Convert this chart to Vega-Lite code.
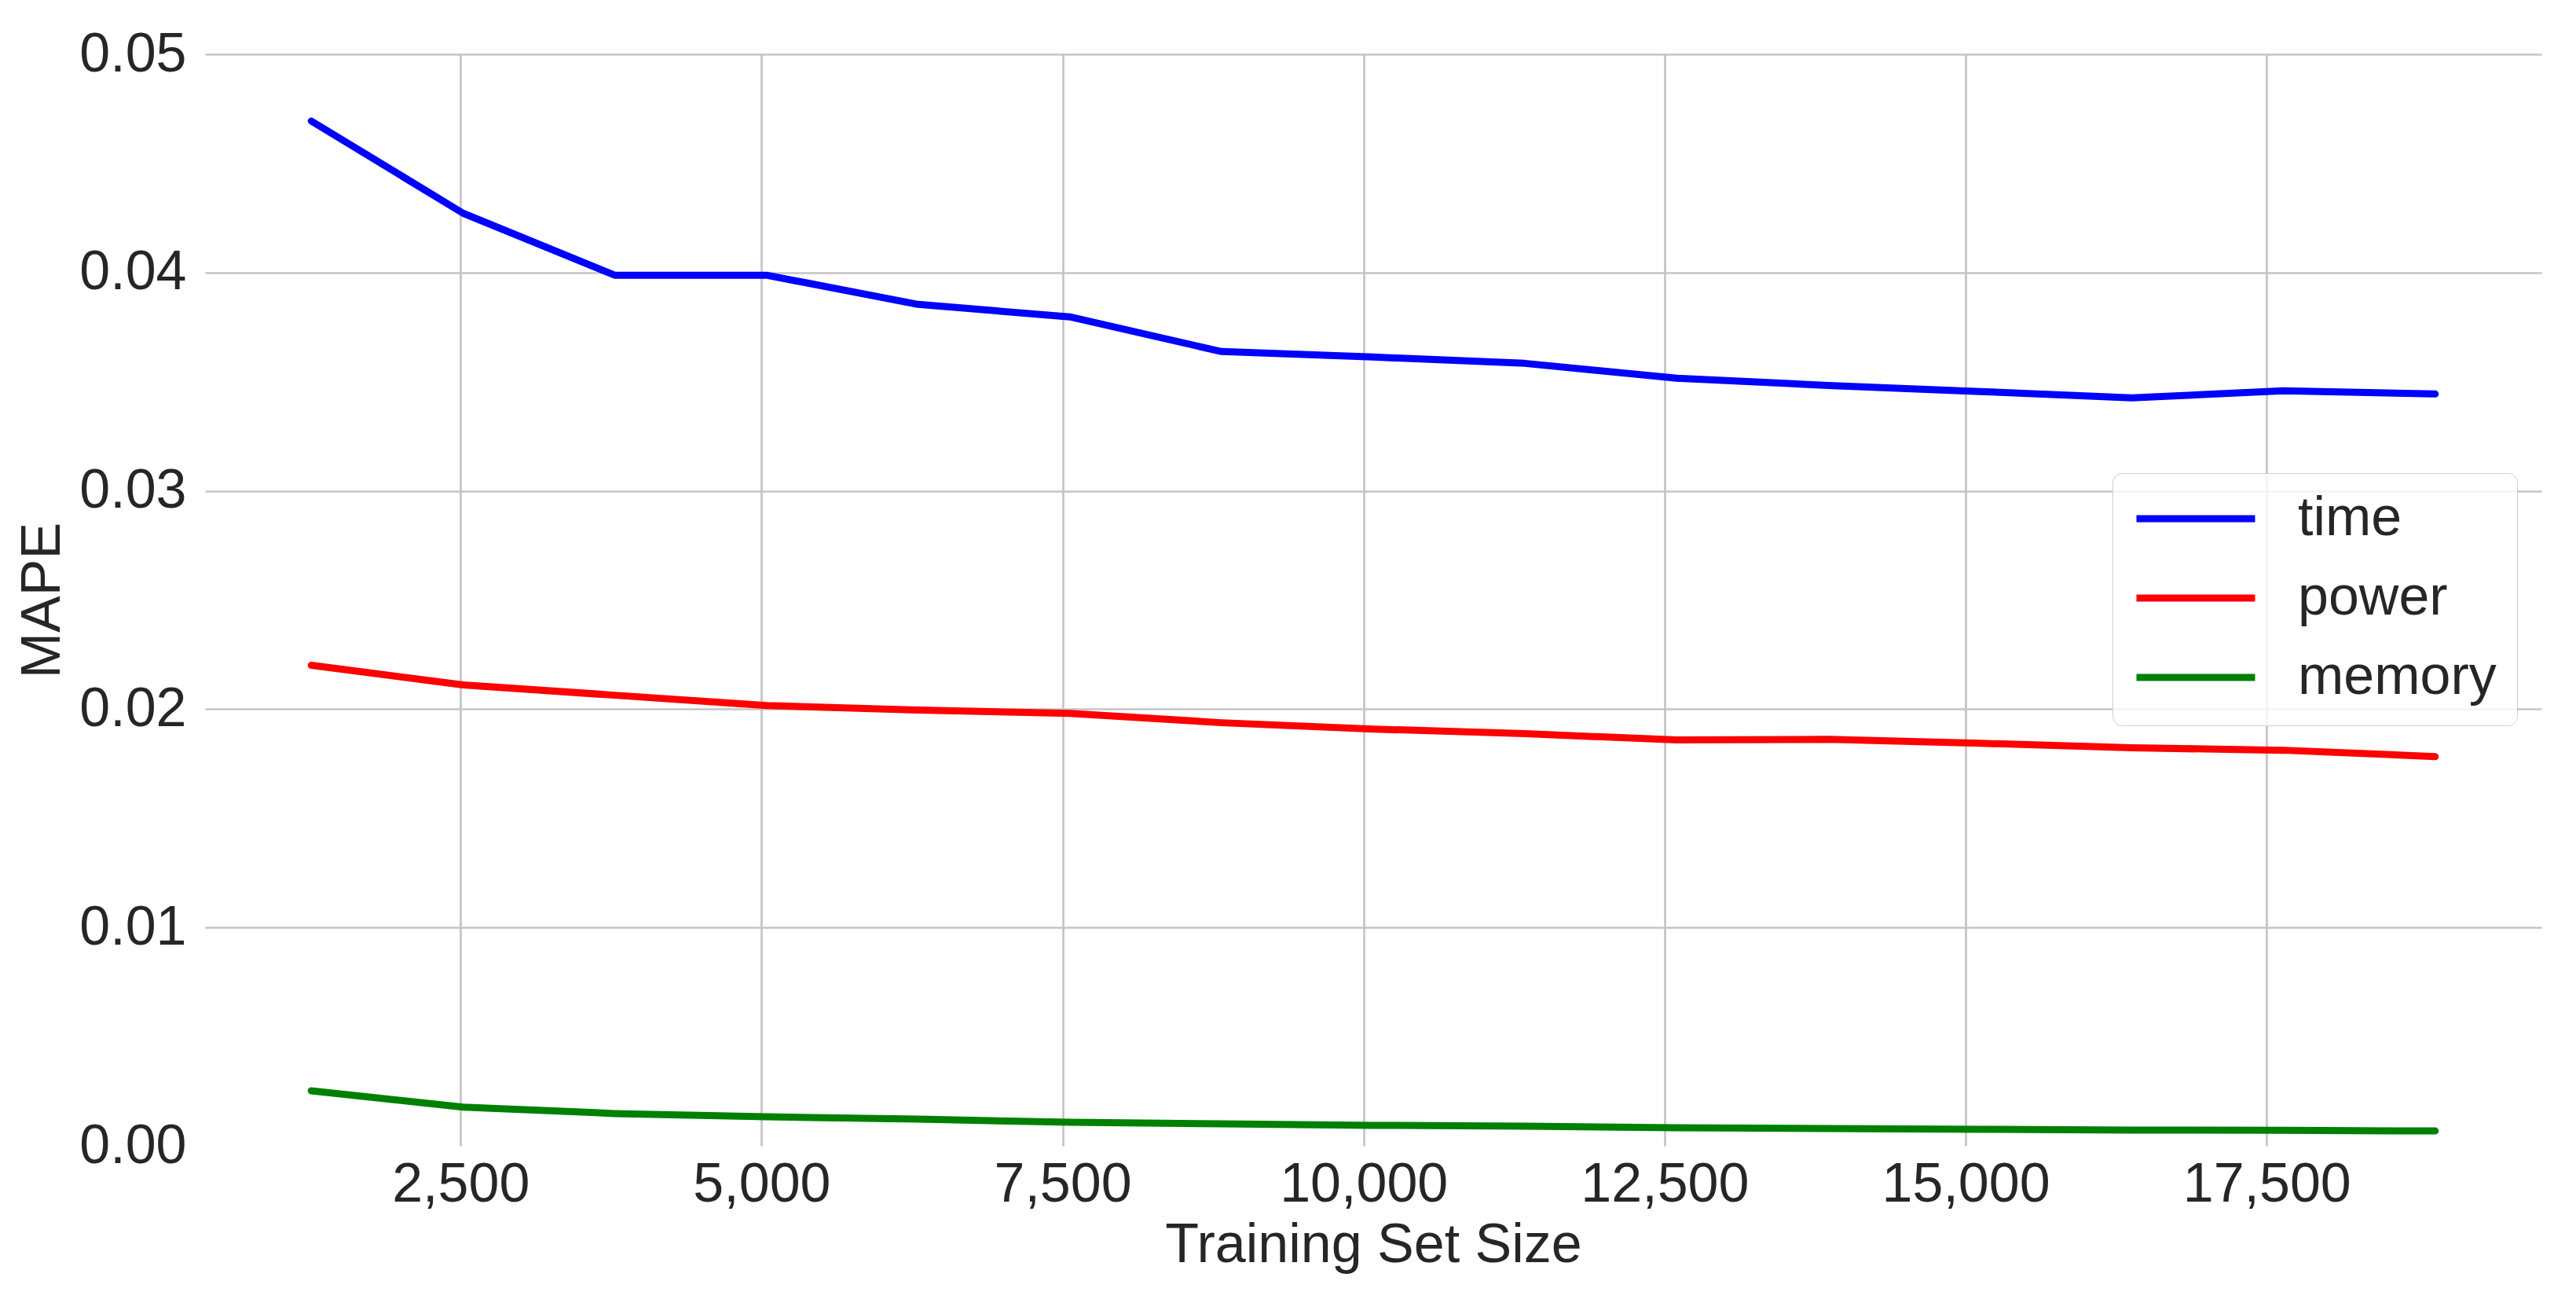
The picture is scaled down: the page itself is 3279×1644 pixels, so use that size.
{
  "$schema": "https://vega.github.io/schema/vega-lite/v6.json",
  "autosize": "none",
  "width": 2974,
  "height": 1389,
  "padding": {"left": 261, "top": 69, "right": 44, "bottom": 186},
  "background": "white",
  "config": {
    "view": {"stroke": null},
    "font": "Liberation Sans",
    "axis": {"labelFont": "Liberation Sans", "titleFont": "Liberation Sans", "labelColor": "#262626", "titleColor": "#262626", "titleFontWeight": "normal", "labelFontSize": 70, "titleFontSize": 70, "labelLimit": 0, "domain": false, "ticks": false, "gridColor": "#c4c4c4", "gridWidth": 2.7, "gridOpacity": 1}
  },
  "data": {"values": [
    {"size": 1260, "metric": "time", "mape": 0.04694},
    {"size": 2520, "metric": "time", "mape": 0.04272},
    {"size": 3780, "metric": "time", "mape": 0.03988},
    {"size": 5040, "metric": "time", "mape": 0.03988},
    {"size": 6300, "metric": "time", "mape": 0.03854},
    {"size": 7560, "metric": "time", "mape": 0.03797},
    {"size": 8820, "metric": "time", "mape": 0.03638},
    {"size": 10080, "metric": "time", "mape": 0.03613},
    {"size": 11340, "metric": "time", "mape": 0.03584},
    {"size": 12600, "metric": "time", "mape": 0.03516},
    {"size": 13860, "metric": "time", "mape": 0.03483},
    {"size": 15120, "metric": "time", "mape": 0.03455},
    {"size": 16380, "metric": "time", "mape": 0.03426},
    {"size": 17640, "metric": "time", "mape": 0.03458},
    {"size": 18900, "metric": "time", "mape": 0.03444},
    {"size": 1260, "metric": "power", "mape": 0.02201},
    {"size": 2520, "metric": "power", "mape": 0.02111},
    {"size": 3780, "metric": "power", "mape": 0.02064},
    {"size": 5040, "metric": "power", "mape": 0.02017},
    {"size": 6300, "metric": "power", "mape": 0.01996},
    {"size": 7560, "metric": "power", "mape": 0.01981},
    {"size": 8820, "metric": "power", "mape": 0.01938},
    {"size": 10080, "metric": "power", "mape": 0.01909},
    {"size": 11340, "metric": "power", "mape": 0.01888},
    {"size": 12600, "metric": "power", "mape": 0.01859},
    {"size": 13860, "metric": "power", "mape": 0.01862},
    {"size": 15120, "metric": "power", "mape": 0.01844},
    {"size": 16380, "metric": "power", "mape": 0.01823},
    {"size": 17640, "metric": "power", "mape": 0.01812},
    {"size": 18900, "metric": "power", "mape": 0.01783},
    {"size": 1260, "metric": "memory", "mape": 0.00252},
    {"size": 2520, "metric": "memory", "mape": 0.00177},
    {"size": 3780, "metric": "memory", "mape": 0.00148},
    {"size": 5040, "metric": "memory", "mape": 0.00133},
    {"size": 6300, "metric": "memory", "mape": 0.00122},
    {"size": 7560, "metric": "memory", "mape": 0.00108},
    {"size": 8820, "metric": "memory", "mape": 0.00101},
    {"size": 10080, "metric": "memory", "mape": 0.00094},
    {"size": 11340, "metric": "memory", "mape": 0.0009},
    {"size": 12600, "metric": "memory", "mape": 0.00083},
    {"size": 13860, "metric": "memory", "mape": 0.00079},
    {"size": 15120, "metric": "memory", "mape": 0.00076},
    {"size": 16380, "metric": "memory", "mape": 0.00072},
    {"size": 17640, "metric": "memory", "mape": 0.00071},
    {"size": 18900, "metric": "memory", "mape": 0.00068}
  ]},
  "mark": {"type": "line", "strokeWidth": 9, "strokeCap": "round", "strokeJoin": "round", "clip": true},
  "encoding": {
    "x": {"field": "size", "type": "quantitative", "title": "Training Set Size",
      "scale": {"domain": [378, 19782], "nice": false, "zero": false},
      "axis": {"values": [2500, 5000, 7500, 10000, 12500, 15000, 17500], "format": ",d", "labelPadding": 15, "titlePadding": 8, "grid": true}},
    "y": {"field": "mape", "type": "quantitative", "title": "MAPE",
      "scale": {"domain": [0, 0.05], "nice": false},
      "axis": {"values": [0, 0.01, 0.02, 0.03, 0.04, 0.05], "format": ".2f", "labelPadding": 24, "titlePadding": 10, "grid": true,
        "gridColor": {"condition": {"test": "datum.value === 0", "value": "transparent"}, "value": "#c4c4c4"}}},
    "color": {"field": "metric", "type": "nominal",
      "scale": {"domain": ["time", "power", "memory"], "range": ["#0000ff", "#ff0000", "#008000"]},
      "legend": {"orient": "none", "legendX": 2428, "legendY": 533, "title": null,
        "symbolType": "stroke", "symbolSize": 22801, "symbolStrokeWidth": 9,
        "labelFontSize": 70, "labelFont": "Liberation Sans", "labelColor": "#262626", "labelOffset": 50, "labelLimit": 0,
        "padding": 26, "rowPadding": 31, "clipHeight": 64,
        "fillColor": "rgba(255,255,255,0.8)", "strokeColor": "#cfcfcf", "cornerRadius": 12}}
  }
}
